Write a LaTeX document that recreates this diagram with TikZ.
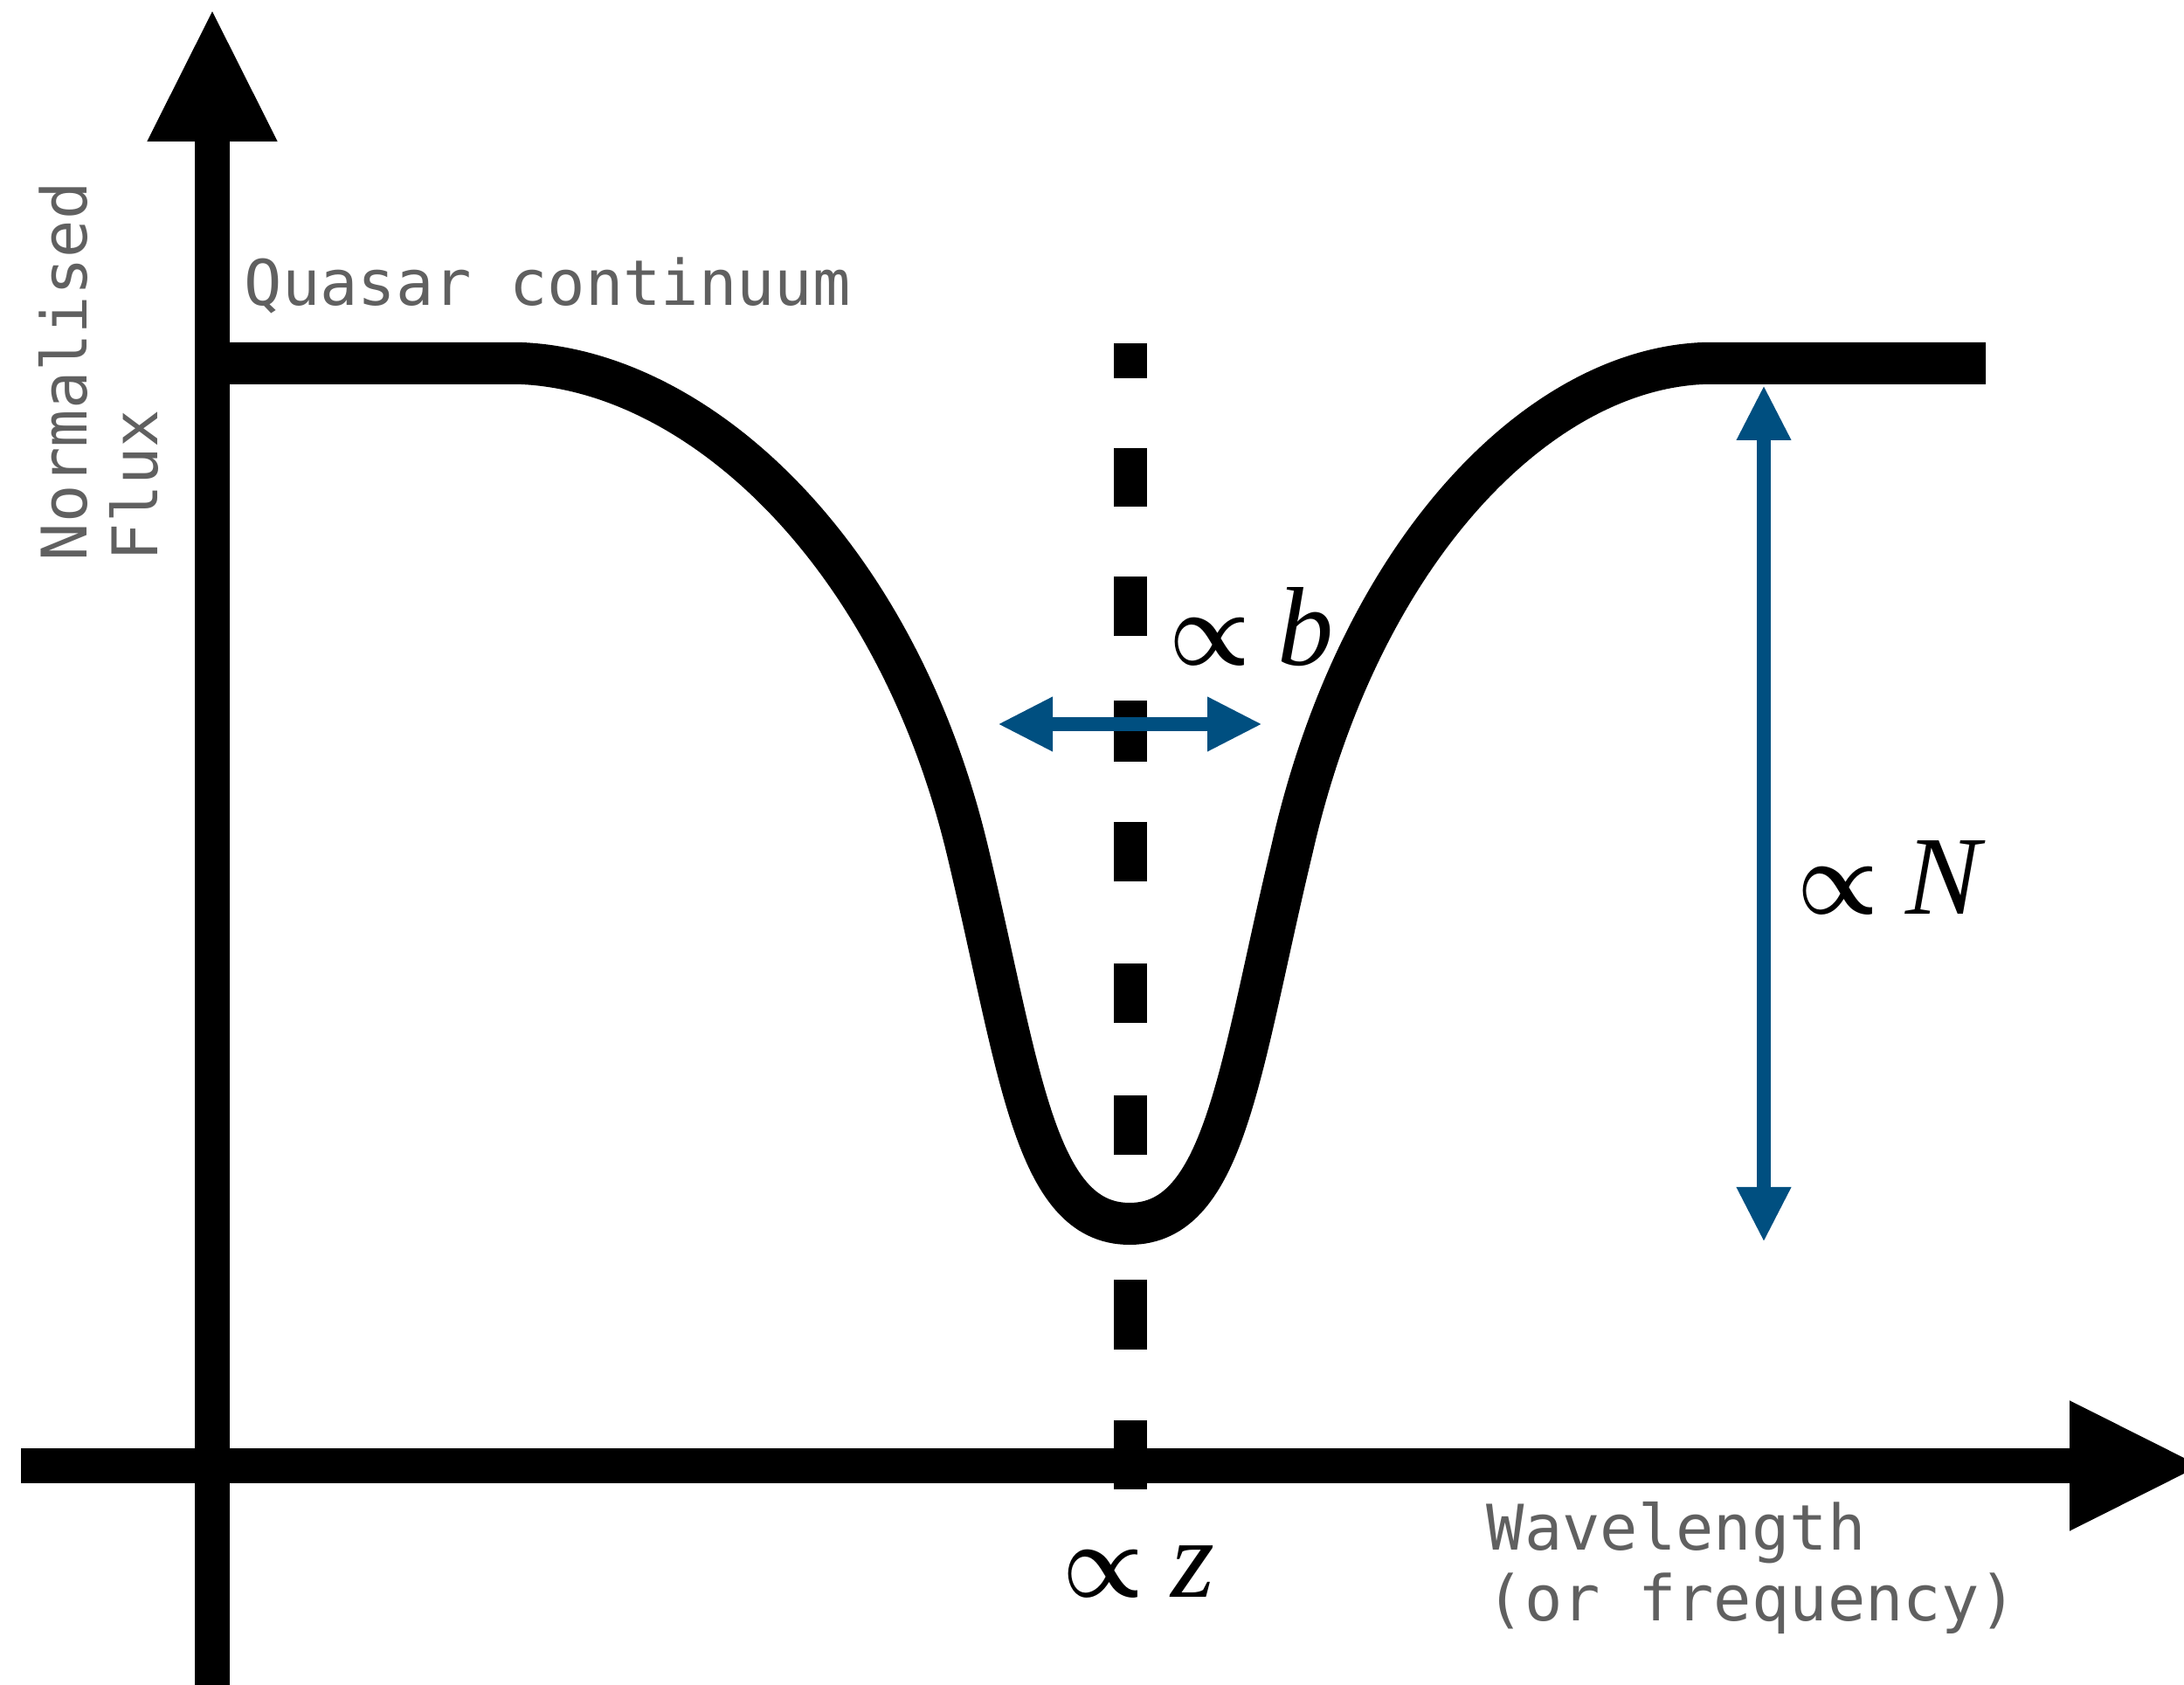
\documentclass[tikz,border=0pt]{standalone}
\usepackage{fontspec}
\usepackage{graphicx}
\usepackage{tikz}
\usetikzlibrary{arrows.meta, positioning}
\newfontfamily\plotmono{DejaVu Sans Mono}
\newfontfamily\letterserif{Liberation Serif}
\definecolor{fluxblue}{RGB}{0,79,128}
\definecolor{labelgrey}{RGB}{96,96,96}
\newcommand{\proplbl}[1]{\scalebox{1.42}[1.65]{\fontsize{20.74}{24}\selectfont\boldmath$\propto$}%
  \hspace{0.31cm}{\fontsize{36.5}{40}\selectfont\letterserif\itshape #1}}

\begin{document}
\begin{tikzpicture}[
    axis/.style={line width=4mm, -{Triangle[length=15.3mm, width=13.7mm]}},
    profile/.style={line width=4.8mm},
    centre/.style={line width=3.8mm, dash pattern=on 4mm off 8mm on 6.7mm
      off 8mm on 6.8mm off 7.4mm on 7mm off 6.9mm on 6.8mm off 9.4mm
      on 6.8mm off 8.3mm on 6.8mm off 14.3mm on 8mm off 8.1mm on 7.9mm off 50mm},
    measure/.style={line width=1.6mm, fluxblue,
      {Triangle[length=6.3mm, width=5.8mm]}-{Triangle[length=6.3mm, width=5.8mm]}},
    lbl/.style={font=\plotmono\fontsize{20.5}{22.8}\selectfont, text=labelgrey,
      inner sep=0pt, align=left},
    prop/.style={inner sep=0pt, anchor=base west}]
  \useasboundingbox (0,0) rectangle (25,19.28);
  % axes
  \coordinate (xstart) at (0.24,2.50);
  \coordinate (xend) at (25.22,2.50);
  \coordinate (ystart) at (2.43,-0.20);
  \coordinate (yend) at (2.43,19.19);
  % line centre
  \coordinate (ctop) at (12.94,15.35);
  \coordinate (cbot) at (12.94,2.23);
  \draw[centre] (ctop) -- (cbot);
  % absorption profile
  \draw[profile] (2.43,15.12) -- (5.97,15.12)
    .. controls (8.00,15.03) and (10.25,12.96) .. (11.07,9.56)
    .. controls (11.67,7.06) and (11.83,5.27) .. (12.93,5.27)
    .. controls (14.03,5.27) and (14.19,7.06) .. (14.79,9.56)
    .. controls (15.56,12.96) and (17.60,15.04) .. (19.49,15.12)
    -- (22.73,15.12);
  \draw[axis] (xstart) -- (xend);
  \draw[axis] (ystart) -- (yend);
  % widths
  \coordinate (wleft) at (11.42,10.99);
  \coordinate (wright) at (14.45,10.99);
  \coordinate (dtop) at (20.19,14.87);
  \coordinate (dbot) at (20.19,5.06);
  \draw[measure] (wleft) -- (wright);
  \draw[measure] (dtop) -- (dbot);
  % labels
  \node[lbl, anchor=base west] (cont) at (2.79,15.78) {Quasar continuum};
  \node[lbl, anchor=base west, rotate=90] (ylab) at (1.80,12.85) {Normalised\\Flux};
  \node[lbl, anchor=base west] (xlab) at (17.01,0.73) {Wavelength\\(or frequency)};
  \node[prop] (width) at (13.38,11.66) {\proplbl{b}};
  \node[prop] (depth) at (20.57,8.81) {\proplbl{N}};
  \node[prop] (redshift) at (12.16,1.00) {\proplbl{z}};
\end{tikzpicture}
\end{document}
